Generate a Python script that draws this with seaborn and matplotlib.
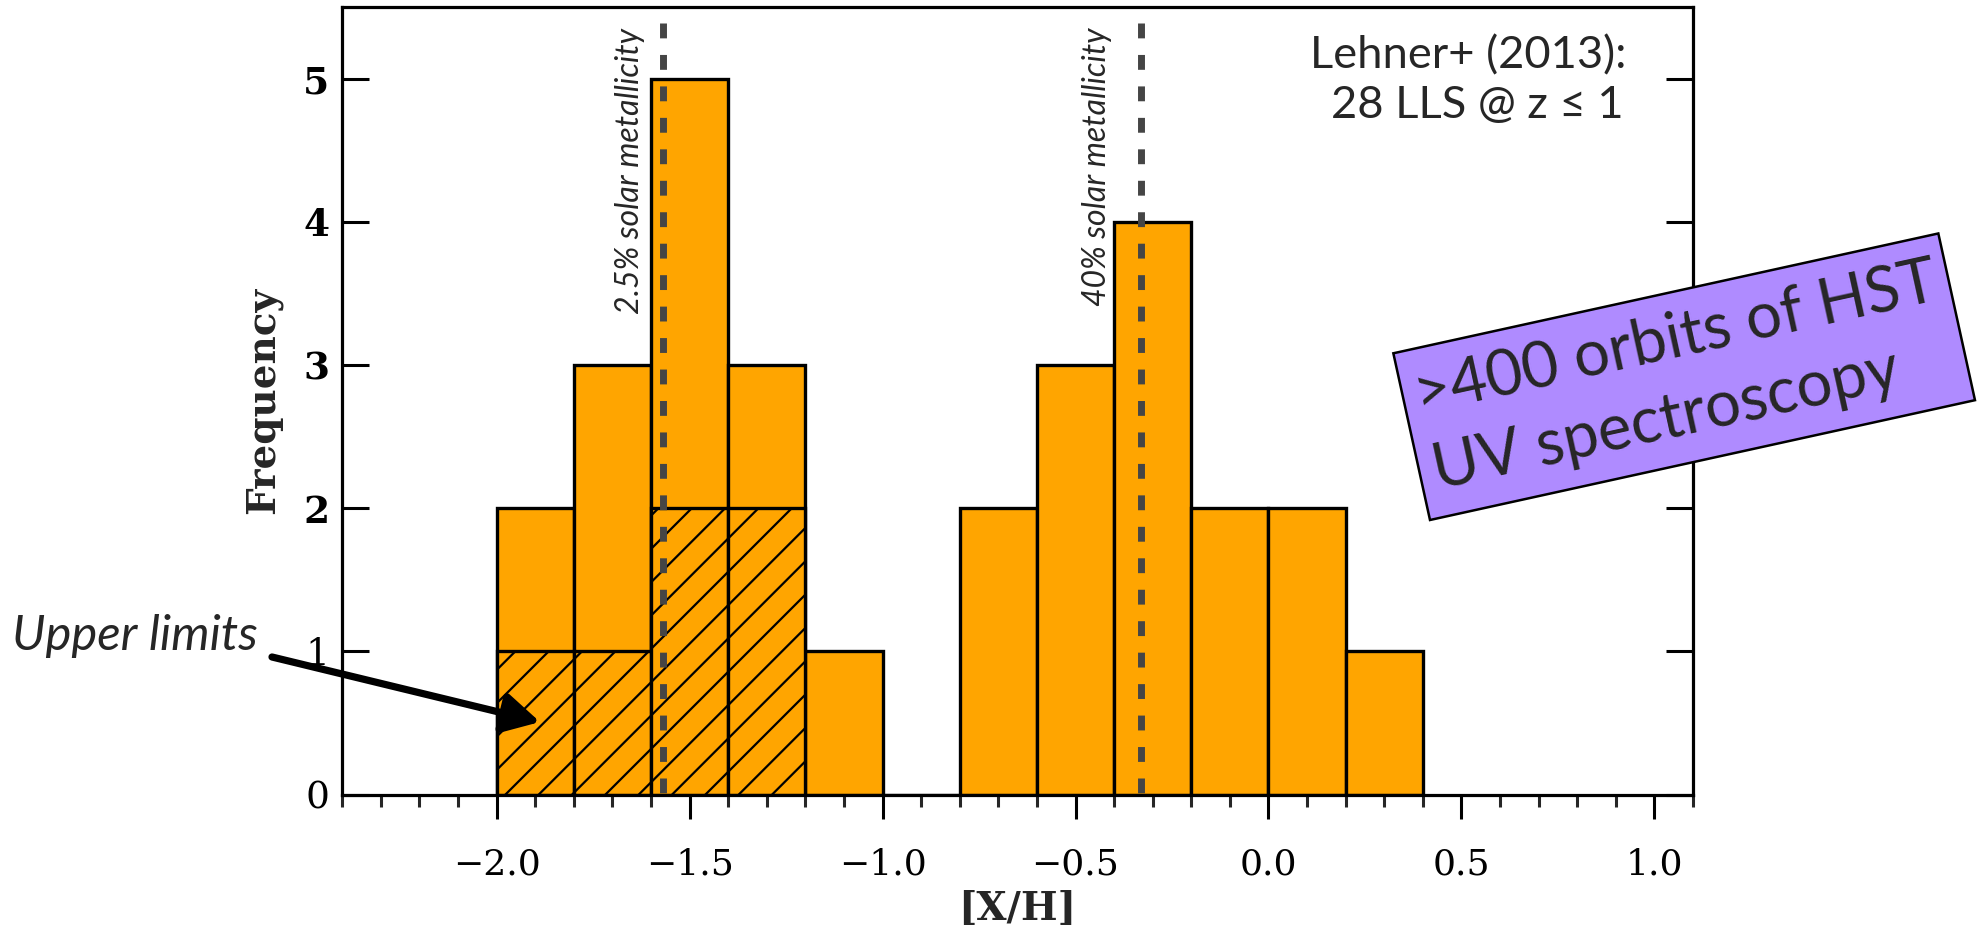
import numpy as np
import pandas as pd
import matplotlib
matplotlib.use("Agg")
import matplotlib.pyplot as plt
import matplotlib.patches as mpatches
from matplotlib.ticker import FixedLocator, MultipleLocator
import seaborn as sns

# Metallicity distribution of Lyman-limit systems, bins of 0.2 dex starting at -2.0
bin_start = -2.0
bin_width = 0.2
counts = [2, 3, 5, 3, 1, 0, 2, 3, 4, 2, 2, 1]
upper_limit_counts = [1, 1, 2, 2, 0, 0, 0, 0, 0, 0, 0, 0]

# reference metallicities marked with dashed lines
ref_metallicity = [-1.57, -0.33]
ref_labels = ["2.5% solar metallicity", "40% solar metallicity"]

x_ticks = [-2.0, -1.5, -1.0, -0.5, 0.0, 0.5, 1.0]
x_ticklabels = ["\u22122.0", "\u22121.5", "\u22121.0", "\u22120.5", "0.0", "0.5", "1.0"]
y_ticks = [0, 1, 2, 3, 4, 5]
y_ticklabels = ["0", "1", "2", "3", "4", "5"]

W, H, DPI = 1979, 934, 200
ORANGE = "#FFA500"
LAVENDER = "#AF8BFF"

sns.set_theme(style="ticks")
plt.rcParams.update({
    "font.family": ["DejaVu Serif"],
    "hatch.linewidth": 0.8,
    "axes.linewidth": 1.15,
    "axes.edgecolor": "black",
})

fig = plt.figure(figsize=(W / DPI, H / DPI), dpi=DPI)
ax_left, ax_right, ax_top, ax_bottom = 342.3, 1693.0, 7.3, 794.5
ax = fig.add_axes([ax_left / W, 1 - ax_bottom / H,
                   (ax_right - ax_left) / W, (ax_bottom - ax_top) / H])

n_bins = len(counts)
bin_end = bin_start + bin_width * n_bins
centers = bin_start + bin_width * (np.arange(n_bins) + 0.5)
hist_df = pd.DataFrame({"xh": centers, "n": counts, "ul": upper_limit_counts})

# full sample
sns.histplot(data=hist_df, x="xh", weights="n", binwidth=bin_width,
             binrange=(bin_start, bin_end), stat="count", ax=ax,
             color=ORANGE, alpha=1, edgecolor="black", linewidth=1.2)

# upper limits, hatched
sns.histplot(data=hist_df[hist_df["ul"] > 0], x="xh", weights="ul",
             binwidth=bin_width, binrange=(bin_start, bin_start + 4 * bin_width),
             stat="count", ax=ax, color=ORANGE, alpha=1,
             edgecolor="black", linewidth=1.2, hatch="//")

# reference metallicity lines with rotated labels
line_top = 5.39
label_offsets = [-8.4, -12.8]
for xm, lab, off in zip(ref_metallicity, ref_labels, label_offsets):
    ax.plot([xm, xm], [line_top, 0], color="#454545", lw=2.5,
            linestyle=(0, (2.14, 2.39)), dash_capstyle="butt", zorder=5)
    ax.annotate(lab, xy=(xm, 5.356), xytext=(off, 0), textcoords="offset points",
                rotation=90, rotation_mode="anchor", ha="right", va="baseline",
                fontsize=11.5, fontstyle="italic", family=["Lato", "DejaVu Sans"])

ax.set_xlim(-2.4, 1.1)
ax.set_ylim(0, 5.5)

ax.xaxis.set_major_locator(FixedLocator(x_ticks))
ax.set_xticklabels(x_ticklabels)
ax.xaxis.set_minor_locator(MultipleLocator(0.1))
ax.yaxis.set_major_locator(FixedLocator(y_ticks))
ax.set_yticklabels(y_ticklabels)
ax.yaxis.set_minor_locator(FixedLocator([]))

ax.tick_params(axis="x", which="major", direction="out", length=8.6, width=1.1,
               pad=10.4, labelsize=13, colors="black", top=False, bottom=True)
ax.tick_params(axis="x", which="minor", direction="out", length=4.3, width=1.1,
               top=False, bottom=True)
ax.tick_params(axis="y", which="major", direction="in", length=9.7, width=1.1,
               left=True, right=True, pad=4.7, labelsize=13.5, colors="black")
for lbl, v in zip(ax.get_yticklabels(), y_ticks):
    lbl.set_fontweight("bold" if v >= 2 else "normal")

ax.set_xlabel("[X/H]", fontsize=14, fontweight="bold")
ax.set_ylabel("Frequency", fontsize=14, fontweight="bold")
ax.xaxis.set_label_coords(0.5, -0.1213)
ax.yaxis.set_label_coords(-0.0449, 0.5)
for s in ax.spines.values():
    s.set_visible(True)
    s.set_linewidth(1.15)


def fpos(px, py):
    return px / W, 1 - py / H


sans = ["Lato", "DejaVu Sans"]

# sample description
fig.text(*fpos(1627, 68), "Lehner+ (2013):", ha="right", va="baseline",
         fontsize=16.3, family=sans)
fig.text(*fpos(1624, 118), "28 LLS @ z \u2264 1", ha="right", va="baseline",
         fontsize=16.3, family=sans)

# upper-limit callout
fig.text(*fpos(12, 650), "Upper limits", ha="left", va="baseline",
         fontsize=17.6, fontstyle="italic", family=sans)
x_of = lambda px: -2.4 + (px - ax_left) / ((ax_right - ax_left) / 3.5)
y_of = lambda py: (ax_bottom - py) / ((ax_bottom - ax_top) / 5.5)
ax.annotate("", xy=(x_of(540), y_of(722)), xytext=(x_of(272), y_of(657)),
            annotation_clip=False,
            arrowprops=dict(arrowstyle="-|>,head_length=0.55,head_width=0.3",
                            mutation_scale=20, lw=2.6, color="black",
                            shrinkA=0, shrinkB=0))

# rotated banner
ang = 12.4
bl = np.array([1430.0, H - 520.0])
bw, bh = 558.0, 170.7
t = np.deg2rad(ang)
u = np.array([np.cos(t), np.sin(t)])
v = np.array([-np.sin(t), np.cos(t)])
banner = mpatches.Rectangle(bl / DPI, bw / DPI, bh / DPI, angle=ang,
                            transform=fig.dpi_scale_trans, facecolor=LAVENDER,
                            edgecolor="black", linewidth=0.9, zorder=10)
fig.add_artist(banner)
for txt, (a, b) in zip([">400 orbits of HST", "UV spectroscopy"],
                       [(12, bh - 64), (14, bh - 142)]):
    p = (bl + a * u + b * v) / DPI
    fig.text(p[0], p[1], txt, transform=fig.dpi_scale_trans, rotation=ang,
             rotation_mode="anchor", ha="left", va="baseline", fontsize=22.8,
             family=sans, zorder=11)

fig.savefig("out.png", dpi=DPI)
